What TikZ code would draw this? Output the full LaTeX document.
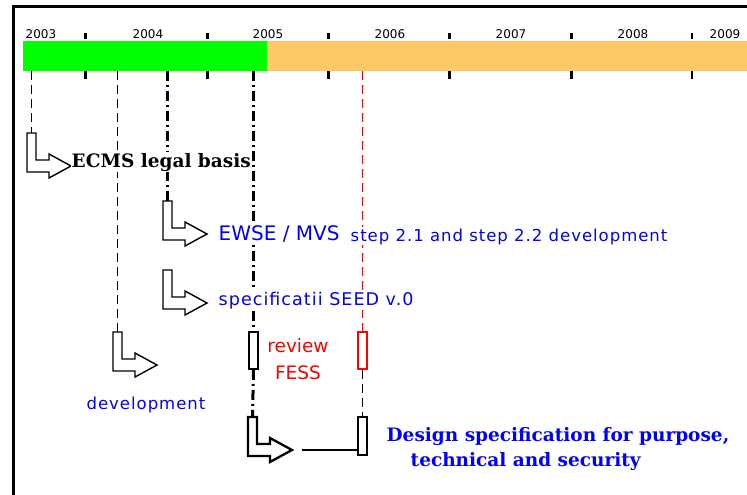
\documentclass[tikz,border=0pt]{standalone}
\usepackage{fontspec}
\newfontfamily\yearfont{DejaVu Sans}
\newfontfamily\notefont{DejaVu Sans}[LetterSpace=6]
\newfontfamily\headfont{DejaVu Serif}
\usetikzlibrary{positioning}
\definecolor{tlgreen}{HTML}{00FF00}
\definecolor{tlorange}{HTML}{FCC966}
\definecolor{tlblue}{HTML}{0000FF}
\definecolor{tlred}{HTML}{FF0000}
\tikzset{
  tl year/.style={font=\yearfont\fontsize{12}{14}\selectfont, anchor=base, inner sep=0pt},
  tl tick/.style={line width=3pt},
  tl thin dash/.style={line width=1.6pt, dash pattern=on 9pt off 5pt},
  tl thick dash/.style={line width=3pt, dash pattern=on 10pt off 4pt on 2pt off 4pt},
  tl box/.style={draw, line width=1.6pt, fill=white, minimum width=9pt,
    minimum height=37pt, inner sep=0pt},
  tl note/.style={font=\notefont\fontsize{16.5}{19}\selectfont, text=tlblue,
    fill=white, inner sep=1pt, anchor=base west},
  tl red/.style={font=\yearfont\fontsize{18.5}{22}\selectfont, text=tlred,
    fill=white, inner sep=1pt, anchor=base},
  tl head/.style={font=\headfont\bfseries\fontsize{18.5}{22}\selectfont,
    fill=white, inner sep=1pt, anchor=base west},
  bent arrow/.pic={
    \draw[fill=white, line join=miter]
      (0,0) -- (9,0) -- (9,27) -- (22,27) -- (22,21) -- (44,33)
      -- (22,45) -- (22,39) -- (0,39) -- cycle;
    \coordinate (-top) at (4.5,0);
    \coordinate (-tip) at (44,33);
  }
}

\begin{document}
\begin{tikzpicture}[x=1pt, y=-1pt, line width=1.4pt]
  \useasboundingbox (0,0) rectangle (747,495);
  \fill[white] (0,0) rectangle (747,495);
  \draw[line width=2.7pt] (747,6.3) -- (13.5,6.3) -- (13.5,495);

  % time bar
  \fill[tlorange] (23,41) rectangle (747,71);
  \fill[tlgreen] (23,41) rectangle (267,71);
  \coordinate (barbot) at (0,71);
  \foreach \yr/\x in {2003/41,2004/148,2005/268,2006/390,2007/511,2008/633,2009/725}
    \node[tl year] (y\yr) at (\x,39) {\yr};
  \foreach \x in {85,207,328,449,571} {
    \draw[tl tick] (\x,33) -- (\x,39);
    \draw[tl tick] (\x,71) -- (\x,79);
  }
  \draw[line width=1.2pt] (692,33) -- (692,39) (692,71) -- (692,79);

  % steps
  \pic (arrEcms) at (27,133) {bent arrow};
  \pic (arrEwse) at (163,201) {bent arrow};
  \pic (arrSeed) at (163,270) {bent arrow};
  \pic (arrDev) at (113,332) {bent arrow};
  \pic[line width=2.3pt] (arrDsn) at (248,417) {bent arrow};
  \node[tl box] (rv) at (253.5,350.5) {};
  \node[tl box, draw=tlred] (rb) at (362.5,350.5) {};
  \node[tl box, minimum height=38pt] (sb) at (362.5,436) {};

  \draw[tl thin dash] (arrEcms-top |- barbot) -- (arrEcms-top);
  \draw[tl thin dash] (arrDev-top |- barbot) -- (arrDev-top);
  \draw[tl thick dash] (arrEwse-top |- barbot) -- (arrEwse-top);
  \draw[tl thick dash] (rv.north |- barbot) -- (rv.north);
  \draw[tl thick dash] (rv.south) -- (arrDsn-top);
  \draw[tl thin dash, tlred] (rb.north |- barbot) -- (rb.north);
  \draw[tl thin dash] (rb.south) -- (sb.north);
  \draw ([xshift=10pt]arrDsn-tip) -- (arrDsn-tip -| sb.west);

  % labels
  \node[tl head] (ecms) at (70,167) {ECMS legal basis};
  \node[tl note, font=\yearfont\fontsize{20}{23}\selectfont] (ewse) at (217,240) {EWSE / MVS};
  \node[tl note] (steps) at (349,241) {step 2.1 and step 2.2 development};
  \node[tl note, font=\notefont\fontsize{17.5}{20}\selectfont] (seed) at (217,305) {specificatii SEED v.0};
  \node[tl note, anchor=base] (dev) at (146,409) {development};
  \node[tl red] (review) at (298,352) {review};
  \node[tl red] (fess) at (298,379) {FESS};
  \node[tl head, text=tlblue] (dsn1) at (385,441) {Design specification for purpose,};
  \node[tl head, text=tlblue] (dsn2) at (409,466) {technical and security};
\end{tikzpicture}
\end{document}
